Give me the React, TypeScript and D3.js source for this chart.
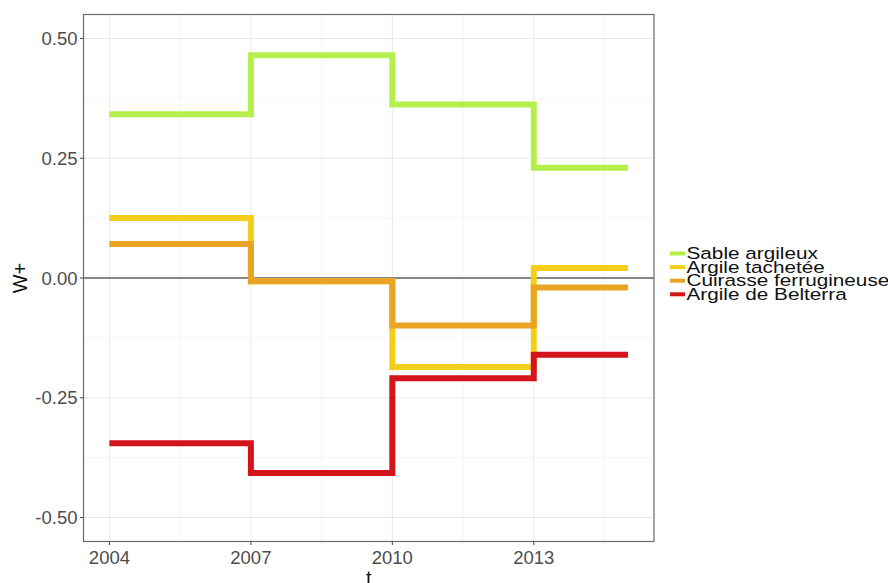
import React from "react";
import * as d3 from "d3";

const years = [2004, 2007, 2010, 2013, 2015];
const seriesNames = ["Sable argileux", "Argile tachetée", "Cuirasse ferrugineuse", "Argile de Belterra"];
const sableArgileux = [0.342, 0.465, 0.362, 0.230, 0.230];
const argileTachetee = [0.125, -0.007, -0.186, 0.021, 0.021];
const cuirasseFerrugineuse = [0.071, -0.007, -0.099, -0.020, -0.020];
const argileDeBelterra = [-0.345, -0.407, -0.209, -0.160, -0.160];
const seriesColors = ["#b5ef4b", "#f3cf1c", "#e8a422", "#d3151b"];
const xTicks = [2004, 2007, 2010, 2013];
const xMinor = [2005.5, 2008.5, 2011.5, 2014.5];
const yTicks = [-0.5, -0.25, 0, 0.25, 0.5];
const yMinor = [-0.375, -0.125, 0.125, 0.375];

const W = 888;
const H = 583;
const P = { left: 83.5, right: 654, top: 14.5, bottom: 541.5 };

export default function App() {
  const x = d3.scaleLinear().domain([2003.45, 2015.55]).range([P.left, P.right]);
  const y = d3.scaleLinear().domain([-0.55, 0.55]).range([P.bottom, P.top]);
  const allSeries = [sableArgileux, argileTachetee, cuirasseFerrugineuse, argileDeBelterra];
  const line = d3
    .line<[number, number]>()
    .x((d) => x(d[0]))
    .y((d) => y(d[1]))
    .curve(d3.curveStepAfter);
  const font = "'Liberation Sans', Arial, sans-serif";
  const legendRows = [253.5, 267.1, 280.7, 294.3];
  const fmt = (v: number) => d3.format(".2f")(v).replace("\u2212", "-");

  return (
    <svg
      width={W}
      height={H}
      style={{ position: "absolute", left: 0, top: 0, background: "#fff" }}
      fontFamily={font}
    >
      <rect x={0} y={0} width={W} height={H} fill="#fff" />
      {xMinor.map((v) => (
        <line key={"xm" + v} x1={x(v)} x2={x(v)} y1={P.top} y2={P.bottom} stroke="#f3f3f3" strokeWidth={0.8} />
      ))}
      {yMinor.map((v) => (
        <line key={"ym" + v} x1={P.left} x2={P.right} y1={y(v)} y2={y(v)} stroke="#f3f3f3" strokeWidth={0.8} />
      ))}
      {xTicks.map((v) => (
        <line key={"xg" + v} x1={x(v)} x2={x(v)} y1={P.top} y2={P.bottom} stroke="#e8e8e8" strokeWidth={1} />
      ))}
      {yTicks.map((v) => (
        <line key={"yg" + v} x1={P.left} x2={P.right} y1={y(v)} y2={y(v)} stroke="#e8e8e8" strokeWidth={1} />
      ))}
      <line x1={P.left} x2={P.right} y1={y(0)} y2={y(0)} stroke="#1a1a1a" strokeWidth={1.1} />
      {allSeries.map((vals, i) => (
        <path
          key={seriesNames[i]}
          d={line(years.map((yr, j) => [yr, vals[j]] as [number, number])) || ""}
          fill="none"
          stroke={seriesColors[i]}
          strokeWidth={6}
          strokeLinecap="butt"
          strokeLinejoin="miter"
        />
      ))}
      <rect
        x={P.left}
        y={P.top}
        width={P.right - P.left}
        height={P.bottom - P.top}
        fill="none"
        stroke="#6a6a6a"
        strokeWidth={1.2}
      />
      {yTicks.map((v) => (
        <g key={"yt" + v}>
          <line x1={P.left - 3.5} x2={P.left} y1={y(v)} y2={y(v)} stroke="#444" strokeWidth={1} />
          <text x={P.left - 6} y={y(v)} dy="0.36em" textAnchor="end" fontSize={18.5} fill="#4d4d4d">
            {fmt(v)}
          </text>
        </g>
      ))}
      {xTicks.map((v) => (
        <g key={"xt" + v}>
          <line x1={x(v)} x2={x(v)} y1={P.bottom} y2={P.bottom + 3.5} stroke="#444" strokeWidth={1} />
          <text x={x(v)} y={563.5} textAnchor="middle" fontSize={18.5} fill="#4d4d4d">
            {String(v)}
          </text>
        </g>
      ))}
      <text transform={`translate(27, ${(P.top + P.bottom) / 2}) rotate(-90)`} textAnchor="middle" fontSize={20} fill="#111">
        W+
      </text>
      <text x={(P.left + P.right) / 2} y={585} textAnchor="middle" fontSize={20} fill="#111">
        t
      </text>
      {seriesNames.map((name, i) => (
        <g key={"lg" + name}>
          <line x1={670} x2={685} y1={legendRows[i]} y2={legendRows[i]} stroke={seriesColors[i]} strokeWidth={4} />
          <text
            transform={`translate(686.5, ${legendRows[i] + 5.5}) scale(1.22, 1)`}
            fontSize={17}
            fill="#111"
          >
            {name}
          </text>
        </g>
      ))}
    </svg>
  );
}
